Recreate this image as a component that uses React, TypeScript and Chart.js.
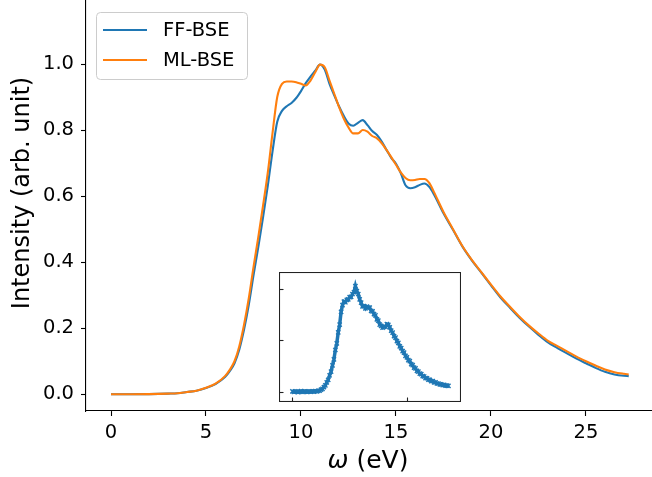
import React, { useEffect, useRef } from 'react';
import { Chart, registerables } from 'chart.js';

Chart.register(...registerables);
Chart.defaults.font.family = "'DejaVu Sans', sans-serif";

// ---------- data ----------
const energy = [0, 1, 2, 3, 3.5, 4, 4.5, 5, 5.5, 6, 6.25, 6.5, 6.75, 7, 7.25, 7.5, 7.75, 8, 8.25, 8.5, 8.75, 9, 9.25, 9.5, 9.75, 10, 10.25, 10.5, 10.75, 11, 11.25, 11.5, 11.75, 12, 12.25, 12.5, 12.75, 13, 13.25, 13.5, 13.75, 14, 14.25, 14.5, 14.75, 15, 15.25, 15.5, 15.75, 16, 16.25, 16.5, 16.75, 17, 17.5, 18, 18.5, 19, 19.5, 20, 20.5, 21, 21.5, 22, 22.5, 23, 23.5, 24, 24.5, 25, 25.5, 26, 26.5, 27, 27.25];

const ffBse = [0, 0, 0.0005, 0.002, 0.003, 0.007, 0.011, 0.019, 0.031, 0.052, 0.07, 0.094, 0.135, 0.195, 0.27, 0.36, 0.445, 0.535, 0.63, 0.735, 0.825, 0.858, 0.872, 0.882, 0.897, 0.918, 0.942, 0.962, 0.98, 0.998, 0.983, 0.94, 0.905, 0.872, 0.843, 0.82, 0.813, 0.822, 0.83, 0.815, 0.797, 0.785, 0.765, 0.74, 0.716, 0.698, 0.67, 0.633, 0.624, 0.627, 0.634, 0.638, 0.628, 0.605, 0.548, 0.498, 0.447, 0.405, 0.368, 0.33, 0.293, 0.262, 0.232, 0.205, 0.18, 0.157, 0.14, 0.124, 0.108, 0.094, 0.08, 0.068, 0.06, 0.056, 0.055];

const mlBse = [0, 0, 0.0005, 0.002, 0.003, 0.007, 0.011, 0.02, 0.032, 0.055, 0.074, 0.1, 0.145, 0.21, 0.29, 0.385, 0.475, 0.57, 0.67, 0.79, 0.9, 0.94, 0.947, 0.947, 0.945, 0.94, 0.935, 0.95, 0.975, 0.998, 0.99, 0.95, 0.91, 0.87, 0.835, 0.808, 0.79, 0.79, 0.8, 0.795, 0.782, 0.775, 0.76, 0.74, 0.718, 0.695, 0.672, 0.655, 0.648, 0.649, 0.652, 0.652, 0.64, 0.612, 0.552, 0.5, 0.448, 0.406, 0.369, 0.332, 0.296, 0.265, 0.235, 0.208, 0.184, 0.162, 0.146, 0.13, 0.114, 0.1, 0.087, 0.075, 0.067, 0.062, 0.06];

const insetEnergy = [0, 0.25, 0.5, 0.75, 1, 1.25, 1.5, 1.75, 2, 2.25, 2.5, 2.75, 3, 3.25, 3.5, 3.75, 4, 4.25, 4.5, 4.75, 5, 5.25, 5.5, 5.75, 6, 6.25, 6.5, 6.75, 7, 7.25, 7.5, 7.75, 8, 8.25, 8.5, 8.75, 9, 9.25, 9.5, 9.75, 10, 10.25, 10.5, 10.75, 11, 11.25, 11.5, 11.75, 12, 12.25, 12.5, 12.75, 13, 13.25, 13.5, 13.75, 14, 14.25, 14.5, 14.75, 15, 15.25, 15.5, 15.75, 16, 16.25, 16.5, 16.75, 17, 17.25, 17.5, 17.75, 18, 18.25, 18.5, 18.75, 19, 19.25, 19.5, 19.75, 20, 20.25, 20.5, 20.75, 21, 21.25, 21.5, 21.75, 22, 22.25, 22.5, 22.75, 23, 23.25, 23.5, 23.75, 24, 24.25, 24.5, 24.75, 25, 25.25, 25.5, 25.75, 26, 26.25, 26.5, 26.75, 27, 27.25];

const insetValues = [0.003, -0.002, 0.004, 0.0, -0.003, 0.002, 0.005, -0.001, 0.002, 0.004, -0.002, 0.001, 0.003, 0.0, 0.004, 0.002, 0.006, 0.004, 0.009, 0.012, 0.02, 0.028, 0.046, 0.062, 0.09, 0.115, 0.16, 0.195, 0.255, 0.315, 0.405, 0.47, 0.575, 0.65, 0.775, 0.84, 0.875, 0.868, 0.892, 0.895, 0.918, 0.92, 0.948, 0.965, 1.025, 0.975, 0.948, 0.895, 0.865, 0.828, 0.83, 0.808, 0.826, 0.818, 0.815, 0.784, 0.78, 0.752, 0.74, 0.703, 0.69, 0.652, 0.64, 0.622, 0.63, 0.632, 0.655, 0.648, 0.625, 0.592, 0.574, 0.54, 0.524, 0.49, 0.474, 0.44, 0.424, 0.393, 0.38, 0.348, 0.334, 0.306, 0.296, 0.268, 0.259, 0.233, 0.226, 0.203, 0.196, 0.176, 0.171, 0.152, 0.148, 0.133, 0.131, 0.117, 0.116, 0.103, 0.102, 0.091, 0.09, 0.08, 0.08, 0.071, 0.072, 0.065, 0.066, 0.06, 0.06, 0.057];

const seriesLabels = ['FF-BSE', 'ML-BSE'];
const xTitleSymbol = 'ω';
const xTitleUnit = ' (eV)';
const yTitle = 'Intensity (arb. unit)';
const xTicks = [0, 5, 10, 15, 20, 25];
const yTicks = [0, 0.2, 0.4, 0.6, 0.8, 1.0];
const insetXTicks = [0, 20];
const insetYTicks = [0, 0.5, 1.0];

const BLUE = '#1f77b4';
const ORANGE = '#ff7f0e';

const toPoints = (xs: number[], ys: number[]) => xs.map((x, i) => ({ x, y: ys[i] }));

// ---------- plugins ----------
const legendPlugin = {
  id: 'mplLegend',
  afterDraw(chart: any) {
    const ctx = chart.ctx;
    ctx.save();
    const x0 = 96.5, y0 = 37.5, w = 151, h = 67;
    ctx.beginPath();
    (ctx as any).roundRect(x0, y0, w, h, 4);
    ctx.fillStyle = 'rgba(255,255,255,0.8)';
    ctx.fill();
    ctx.strokeStyle = '#cccccc';
    ctx.lineWidth = 1;
    ctx.stroke();
    chart.data.datasets.forEach((ds: any, i: number) => {
      const y = 55 + 30 * i;
      ctx.beginPath();
      ctx.moveTo(103, y);
      ctx.lineTo(147, y);
      ctx.strokeStyle = ds.borderColor;
      ctx.lineWidth = 2.1;
      ctx.stroke();
      ctx.fillStyle = '#000';
      ctx.font = "19.5px 'DejaVu Sans'";
      ctx.textBaseline = 'middle';
      ctx.textAlign = 'left';
      ctx.fillText(ds.label, 163, y + 1);
    });
    ctx.restore();
  },
};

// x-axis title with an italic omega (as in mathtext)
const xTitlePlugin = {
  id: 'xTitle',
  afterDraw(chart: any) {
    const ctx = chart.ctx;
    const xs = chart.scales.x;
    ctx.save();
    const fItalic = "italic 25px 'DejaVu Sans'";
    const fNormal = "25px 'DejaVu Sans'";
    ctx.font = fItalic;
    const w1 = ctx.measureText(xTitleSymbol).width;
    ctx.font = fNormal;
    const w2 = ctx.measureText(xTitleUnit).width;
    const cx = (xs.left + xs.right) / 2 - 2;
    const start = cx - (w1 + w2) / 2;
    const y = chart.height - 16;
    ctx.fillStyle = '#000';
    ctx.textBaseline = 'middle';
    ctx.textAlign = 'left';
    ctx.font = fItalic;
    ctx.fillText(xTitleSymbol, start, y);
    ctx.font = fNormal;
    ctx.fillText(xTitleUnit, start + w1, y);
    ctx.restore();
  },
};

const insetFramePlugin = {
  id: 'insetFrame',
  beforeDraw(chart: any) {
    const ctx = chart.ctx;
    ctx.save();
    ctx.fillStyle = '#fff';
    ctx.fillRect(0, 0, chart.width, chart.height);
    ctx.restore();
  },
  afterDraw(chart: any) {
    const ctx = chart.ctx;
    const w = chart.width, h = chart.height;
    const xs = chart.scales.x, ys = chart.scales.y;
    ctx.save();
    ctx.strokeStyle = '#222';
    ctx.lineWidth = 1.1;
    ctx.strokeRect(0.5, 0.5, w - 1, h - 1);
    insetYTicks.forEach((v) => {
      const y = Math.round(ys.getPixelForValue(v)) + 0.5;
      ctx.beginPath();
      ctx.moveTo(0, y);
      ctx.lineTo(4.5, y);
      ctx.stroke();
    });
    insetXTicks.forEach((v) => {
      const x = Math.round(xs.getPixelForValue(v)) + 0.5;
      ctx.beginPath();
      ctx.moveTo(x, h);
      ctx.lineTo(x, h - 4.5);
      ctx.stroke();
    });
    ctx.restore();
  },
};

export default function App() {
  const mainRef = useRef<HTMLCanvasElement>(null);
  const insetRef = useRef<HTMLCanvasElement>(null);

  useEffect(() => {
    const tickFont = { family: "'DejaVu Sans'", size: 19.5 };
    const main = new Chart(mainRef.current!, {
      type: 'line',
      data: {
        datasets: [
          { label: seriesLabels[0], data: toPoints(energy, ffBse), borderColor: BLUE, backgroundColor: BLUE, order: 1 },
          { label: seriesLabels[1], data: toPoints(energy, mlBse), borderColor: ORANGE, backgroundColor: ORANGE, order: 0 },
        ],
      },
      options: {
        responsive: false,
        animation: false,
        devicePixelRatio: 1,
        layout: { padding: { left: 0, right: 6, top: 0, bottom: 0 } },
        elements: {
          point: { radius: 0 },
          line: { borderWidth: 2.1, cubicInterpolationMode: 'monotone', fill: false },
        },
        plugins: { legend: { display: false }, tooltip: { enabled: false } },
        scales: {
          x: {
            type: 'linear',
            min: -1.316,
            max: 28.58,
            afterBuildTicks: (s: any) => { s.ticks = xTicks.map((v) => ({ value: v })); },
            afterFit: (s: any) => { s.height = 66; s.paddingLeft = 0; s.paddingRight = 0; },
            grid: { drawOnChartArea: false, drawTicks: true, tickLength: 5, tickColor: '#000', tickWidth: 1.1 },
            border: { display: true, color: '#000', width: 1.1 },
            ticks: { color: '#000', font: tickFont, padding: 5, maxRotation: 0, autoSkip: false, callback: (v: any) => String(v) },
            title: { display: false },
          },
          y: {
            type: 'linear',
            min: -0.0506,
            max: 1.2695,
            afterBuildTicks: (s: any) => { s.ticks = yTicks.map((v) => ({ value: v })); },
            afterFit: (s: any) => { s.width = 86; s.paddingTop = 0; s.paddingBottom = 0; },
            grid: { drawOnChartArea: false, drawTicks: true, tickLength: 5, tickColor: '#000', tickWidth: 1.1 },
            border: { display: true, color: '#000', width: 1.1 },
            ticks: { color: '#000', font: tickFont, padding: 7, autoSkip: false, callback: (v: any) => Number(v).toFixed(1) },
            title: { display: true, text: yTitle, color: '#000', font: { family: "'DejaVu Sans'", size: 24 }, padding: { top: 8, bottom: 0 } },
          },
        },
      },
      plugins: [legendPlugin, xTitlePlugin],
    } as any);

    const inset = new Chart(insetRef.current!, {
      type: 'line',
      data: {
        datasets: [
          {
            label: seriesLabels[0],
            data: toPoints(insetEnergy, insetValues),
            borderColor: BLUE,
            backgroundColor: BLUE,
            borderWidth: 3.5,
            pointStyle: 'crossRot',
            pointRadius: 3,
            pointBorderWidth: 1.4,
            pointBorderColor: BLUE,
            tension: 0,
          },
        ],
      },
      options: {
        responsive: false,
        animation: false,
        devicePixelRatio: 1,
        layout: { padding: 0 },
        plugins: { legend: { display: false }, tooltip: { enabled: false } },
        scales: {
          x: { type: 'linear', display: false, min: -1.4, max: 28.5 },
          y: { type: 'linear', display: false, min: -0.047, max: 1.109 },
        },
      },
      plugins: [insetFramePlugin],
    } as any);

    return () => {
      main.destroy();
      inset.destroy();
    };
  }, []);

  return (
    <div style={{ position: 'absolute', left: 0, top: 0, width: 652, height: 477, overflow: 'hidden', background: '#fff' }}>
      <canvas ref={mainRef} width={660} height={502} style={{ position: 'absolute', left: 0, top: -25, width: 660, height: 502 }} />
      <canvas ref={insetRef} width={182} height={130} style={{ position: 'absolute', left: 279, top: 272, width: 182, height: 130 }} />
    </div>
  );
}
